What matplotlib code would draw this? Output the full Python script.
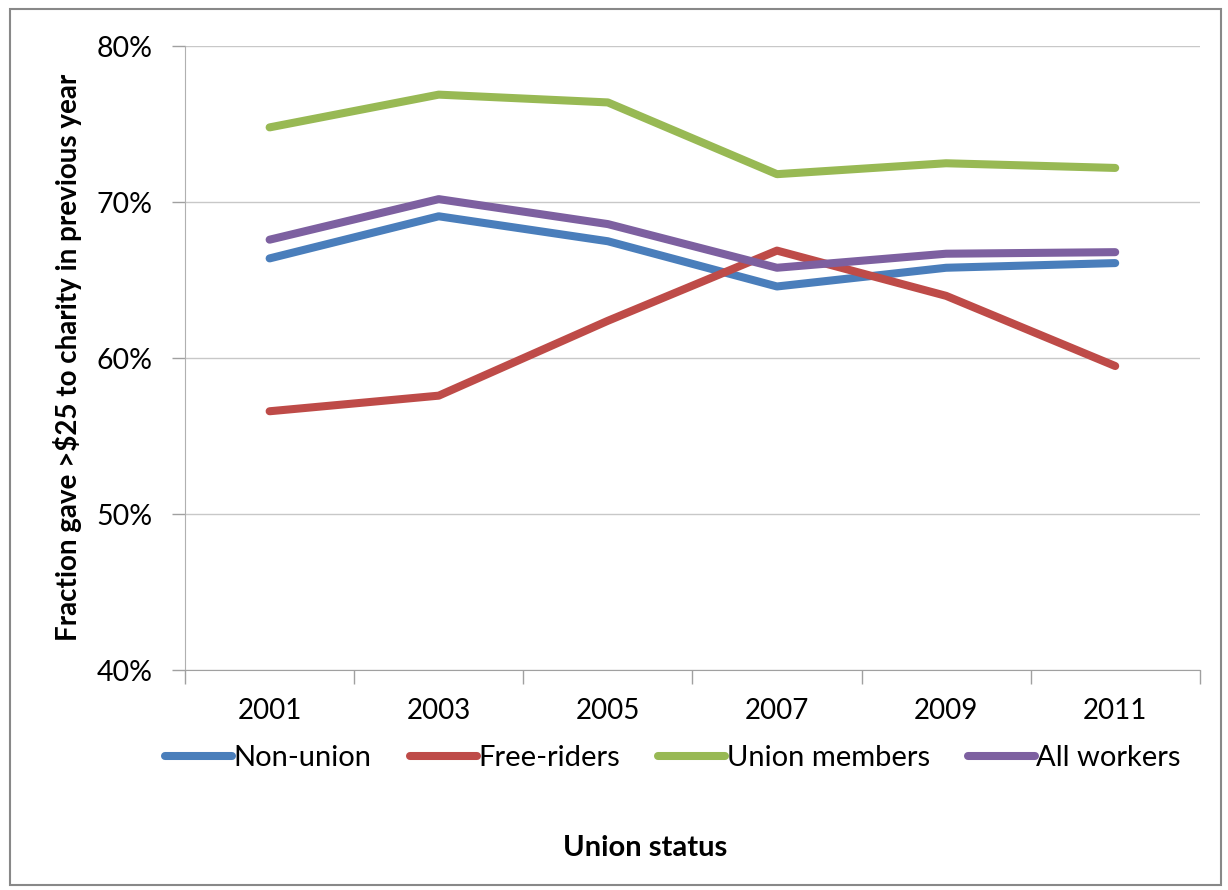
import matplotlib.pyplot as plt
from matplotlib.ticker import FuncFormatter, FixedLocator

years = ["2001", "2003", "2005", "2007", "2009", "2011"]
non_union = [66.4, 69.1, 67.5, 64.6, 65.8, 66.1]
free_riders = [56.6, 57.6, 62.4, 66.9, 64.0, 59.5]
union_members = [74.8, 76.9, 76.4, 71.8, 72.5, 72.2]
all_workers = [67.6, 70.2, 68.6, 65.8, 66.7, 66.8]

series = [
    ("Non-union", non_union, "#4A7EBB"),
    ("Free-riders", free_riders, "#BE4B48"),
    ("Union members", union_members, "#98B954"),
    ("All workers", all_workers, "#7D60A0"),
]

plt.rcParams["font.family"] = ["Lato", "DejaVu Sans"]

fig = plt.figure(figsize=(12.28, 8.9), dpi=100)
ax = fig.add_axes([0.1507, 0.247, 0.8263, 0.701])

x = list(range(len(years)))
for name, vals, col in series:
    ax.plot(x, vals, color=col, lw=5.8, solid_capstyle="round",
            solid_joinstyle="round", label=name)

ax.set_xlim(-0.5, len(years) - 0.5)
ax.set_ylim(40, 80)
ax.set_yticks([40, 50, 60, 70, 80])
ax.yaxis.set_major_formatter(FuncFormatter(lambda v, p: f"{v:.0f}%"))
ax.set_xticks(x)
ax.set_xticklabels(years)
ax.xaxis.set_minor_locator(FixedLocator([i - 0.5 for i in range(len(years) + 1)]))
ax.tick_params(axis="x", which="major", length=0, pad=20, labelsize=20)
ax.tick_params(axis="x", which="minor", length=10, color="#A0A0A0", width=1)
ax.tick_params(axis="y", length=9.5, color="#A0A0A0", width=1, labelsize=20.5, pad=14)

ax.grid(axis="y", color="#C8C8C8", lw=1)
ax.set_axisbelow(True)
for s in ["top", "right"]:
    ax.spines[s].set_visible(False)
ax.spines["left"].set_color("#B0B0B0")
ax.spines["bottom"].set_color("#A0A0A0")

fig.text(0.055, 0.598, "Fraction gave >$25 to charity in previous year",
         rotation=90, ha="center", va="center", fontsize=20, fontweight="bold")
fig.text(0.525, 0.047, "Union status", ha="center", va="center",
         fontsize=21, fontweight="bold")

fig.legend(loc="center", bbox_to_anchor=(0.548, 0.148), ncol=4, frameon=False,
           fontsize=21, handlelength=2.3, handletextpad=0.05, columnspacing=1.3)

fig.patches.append(plt.Rectangle((0.008, 0.006), 0.986, 0.984, transform=fig.transFigure,
                                 fill=False, edgecolor="#888888", lw=1.5))

fig.savefig("out.png", dpi=100)
